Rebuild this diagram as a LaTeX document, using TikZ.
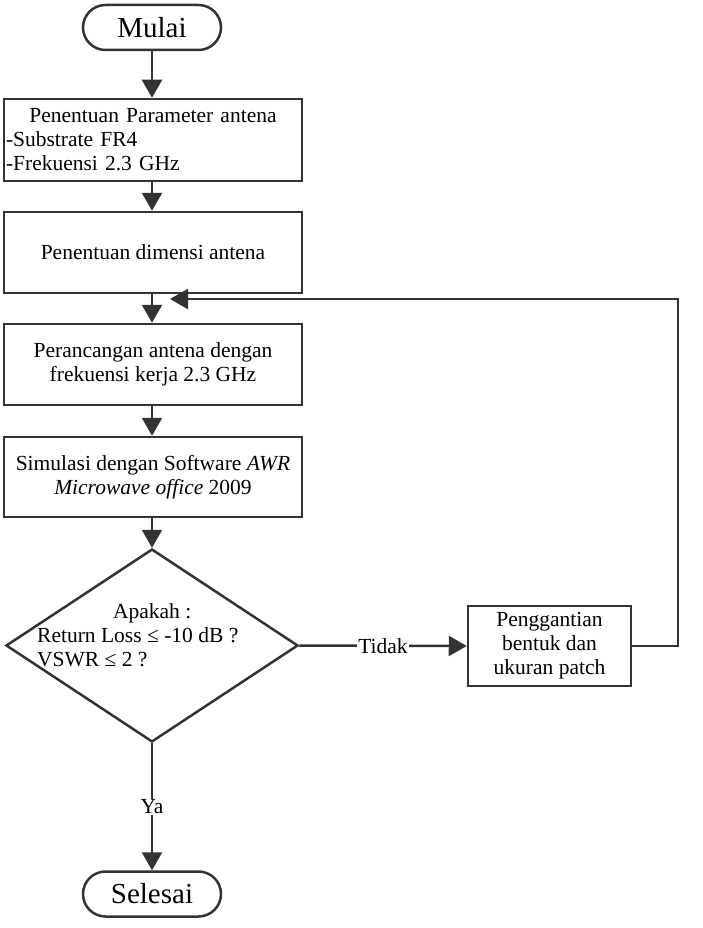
\documentclass[tikz,border=0pt]{standalone}
\usepackage{fontspec}
\setmainfont{Liberation Serif}
\usetikzlibrary{arrows.meta,shapes.misc,shapes.geometric}
\definecolor{ln}{HTML}{333333}
\begin{document}
\begin{tikzpicture}[x=1pt,y=-1pt,
  every node/.style={font=\fontsize{21.5}{24}\selectfont},
  proc/.style={draw=ln, line width=2.5pt, rectangle, inner sep=0pt, minimum width=298pt, align=center},
  term/.style={draw=ln, line width=2.5pt, rounded rectangle, minimum width=138pt, minimum height=45pt, inner sep=0pt, font=\fontsize{29}{34}\selectfont},
  dec/.style={draw=ln, line width=2.5pt, diamond, minimum width=292pt, minimum height=193pt, inner sep=0pt},
  conn/.style={draw=ln, line width=2.5pt, -{Triangle[length=18pt,width=20pt]}},
  lbl/.style={fill=white, inner sep=1pt}
]
\useasboundingbox (0,0) rectangle (702,928);
\node[term] (start) at (152,27.5) {Mulai};
\node[proc, minimum height=82pt, text width=294pt, align=left] (b1) at (153,140) {\makebox[294pt]{Penentuan Parameter antena}\\-Substrate FR4\\-Frekuensi 2.3 GHz};
\node[proc, minimum height=81pt] (b2) at (153,252.5) {Penentuan dimensi antena};
\node[proc, minimum height=81pt] (b3) at (153,364.5) {Perancangan antena dengan\\frekuensi kerja 2.3 GHz};
\node[proc, minimum height=80pt] (b4) at (153,477) {Simulasi dengan Software \textit{AWR}\\\textit{Microwave office} 2009};
\node[dec] (d) at (152,645.5) {};
\node[anchor=west, align=left, inner sep=0pt] (dt) at (37,635) {\makebox[230pt]{Apakah :}\\Return Loss ≤ -10 dB ?\\VSWR ≤ 2 ?};
\node[proc, minimum width=163pt, minimum height=80pt] (b5) at (549.5,646) {Penggantian\\bentuk dan\\ukuran patch};
\node[term] (end) at (152,894) {Selesai};
\coordinate (fb) at (170,299);
\coordinate (corner) at (678,299);

\draw[conn] (start.south) -- (start.south |- b1.north);
\draw[conn] (start.south |- b1.south) -- (start.south |- b2.north);
\draw[conn] (start.south |- b2.south) -- (start.south |- b3.north);
\draw[conn] (start.south |- b3.south) -- (start.south |- b4.north);
\draw[conn] (start.south |- b4.south) -- (d.north);
\draw[conn] (d.east) -- node[lbl]{Tidak} (b5.west);
\draw[conn] (d.south) -- node[lbl]{Ya} (end.north);
\draw[conn] (b5.east) -| (corner) -- (fb);
\end{tikzpicture}
\end{document}
